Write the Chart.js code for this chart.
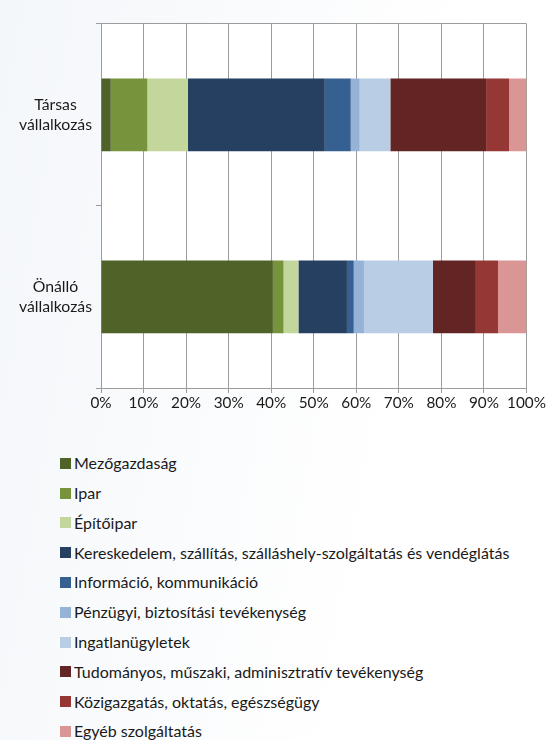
<!DOCTYPE html>
<html>
<head>
<meta charset="utf-8">
<script src="https://cdn.jsdelivr.net/npm/chart.js@4.4.1/dist/chart.umd.min.js"></script>
<style>
  html, body { margin: 0; padding: 0; }
  body { width: 547px; height: 740px; position: relative; overflow: hidden; font-family: Lato, "Liberation Sans", sans-serif;
         background: linear-gradient(100deg, #F4F7FA 0%, #F8FAFC 30%, #FBFCFD 45%, #FFFFFF 70%); }
  #wrap { position: absolute; left: 0; top: 0; width: 547px; height: 420px; }
  #legend { position: absolute; left: 60px; top: 448.4px; margin: 0; padding: 0; list-style: none; }
  #legend li { height: 29.8px; display: flex; align-items: center; font-size: 16px; color: #1a1a1a; white-space: nowrap; line-height: 20px; }
  #legend li span.box { display: inline-block; width: 11px; height: 11px; margin-right: 3px; }
</style>
</head>
<body>
<div id="wrap"><canvas id="c"></canvas></div>
<ul id="legend"></ul>
<script>
const categories = [["Társas", "vállalkozás"], ["Önálló", "vállalkozás"]];
const seriesNames = [
  "Mezőgazdaság",
  "Ipar",
  "Építőipar",
  "Kereskedelem, szállítás, szálláshely-szolgáltatás és vendéglátás",
  "Információ, kommunikáció",
  "Pénzügyi, biztosítási tevékenység",
  "Ingatlanügyletek",
  "Tudományos, műszaki, adminisztratív tevékenység",
  "Közigazgatás, oktatás, egészségügy",
  "Egyéb szolgáltatás"
];
// shares in % : [Társas vállalkozás, Önálló vállalkozás]
const mezogazdasag = [2.3, 40.4];
const ipar = [8.6, 2.5];
const epitoipar = [9.5, 3.5];
const kereskedelem = [32.2, 11.4];
const informacio = [6.1, 1.6];
const penzugyi = [2.1, 2.4];
const ingatlan = [7.2, 16.2];
const tudomanyos = [22.5, 10.1];
const kozigazgatas = [5.4, 5.2];
const egyeb = [4.1, 6.7];
const xTickValues = [0, 10, 20, 30, 40, 50, 60, 70, 80, 90, 100];

const seriesValues = [mezogazdasag, ipar, epitoipar, kereskedelem, informacio, penzugyi, ingatlan, tudomanyos, kozigazgatas, egyeb];
const colors = ["#4F6228", "#77933C", "#C3D69B", "#254061", "#376092", "#95B3D7", "#B9CDE5", "#632523", "#953735", "#D99694"];

const datasets = seriesNames.map((name, i) => ({
  label: name,
  data: seriesValues[i],
  backgroundColor: colors[i],
  borderWidth: 0,
  barPercentage: 0.4,
  categoryPercentage: 1.0
}));

const axisGray = "#9c9c9c";

const plotBg = {
  id: "plotBg",
  beforeDraw(chart) {
    const { ctx, chartArea: a } = chart;
    ctx.save();
    ctx.fillStyle = "#ffffff";
    ctx.fillRect(a.left, a.top, a.right - a.left, a.bottom - a.top);
    ctx.restore();
  }
};

new Chart(document.getElementById("c"), {
  type: "bar",
  data: { labels: categories, datasets },
  plugins: [plotBg],
  options: {
    indexAxis: "y",
    responsive: true,
    maintainAspectRatio: false,
    animation: false,
    layout: { padding: { left: 10, right: 20.5, top: 14, bottom: 8 } },
    plugins: { legend: { display: false }, tooltip: { enabled: false } },
    scales: {
      x: {
        stacked: true,
        min: 0, max: 100,
        afterBuildTicks: (s) => { s.ticks = xTickValues.map(v => ({ value: v })); },
        afterFit: (s) => { s.height = 24; },
        ticks: {
          callback: (v) => v + "%",
          color: "#1a1a1a",
          font: { family: "Lato", size: 15.3 },
          padding: 1,
          maxRotation: 0
        },
        grid: { color: axisGray, lineWidth: 1, tickLength: 5, drawTicks: true },
        border: { color: axisGray, width: 1 }
      },
      y: {
        stacked: true,
        afterFit: (s) => { s.width = 91; },
        ticks: {
          color: "#1a1a1a",
          font: { family: "Lato", size: 15.8, lineHeight: 1.25 },
          crossAlign: "center",
          padding: 4
        },
        grid: {
          offset: true,
          color: (ctx) => ctx.index === 0 ? axisGray : "rgba(0,0,0,0)",
          tickColor: axisGray,
          tickLength: 5,
          drawTicks: true
        },
        border: { color: axisGray, width: 1 }
      }
    }
  }
});

const legend = document.getElementById("legend");
seriesNames.forEach((name, i) => {
  const li = document.createElement("li");
  const box = document.createElement("span");
  box.className = "box";
  box.style.background = colors[i];
  li.appendChild(box);
  li.appendChild(document.createTextNode(name));
  legend.appendChild(li);
});
</script>
</body>
</html>
